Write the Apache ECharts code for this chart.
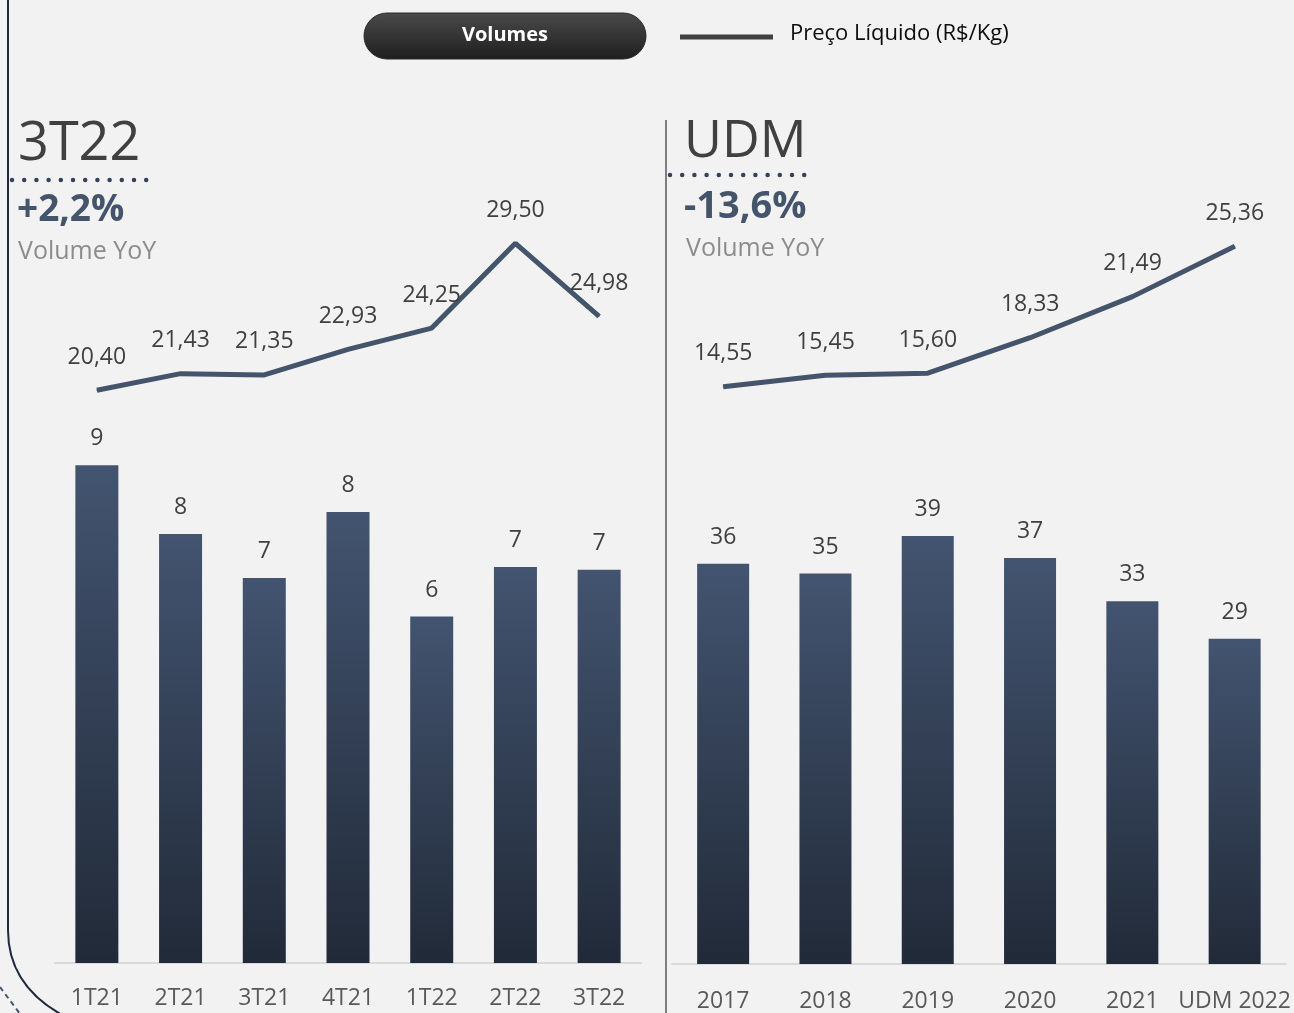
<!DOCTYPE html>
<html>
<head>
<meta charset="utf-8">
<script src="https://cdn.jsdelivr.net/npm/echarts@6/dist/echarts.min.js"></script>
<style>
  html, body { margin: 0; padding: 0; background: #f2f2f2; }
  #chart { width: 1294px; height: 1013px; }
</style>
</head>
<body>
<div id="chart"></div>
<script>
// dados
const quarters = ['1T21', '2T21', '3T21', '4T21', '1T22', '2T22', '3T22']
const volQuarter = [9.05, 7.8, 7.0, 8.2, 6.3, 7.2, 7.15]
const priceQuarter = [20.40, 21.43, 21.35, 22.93, 24.25, 29.50, 24.98]

const years = ['2017', '2018', '2019', '2020', '2021', 'UDM 2022']
const volYear = [36.2, 35.3, 38.7, 36.7, 32.8, 29.4]
const priceYear = [14.55, 15.45, 15.60, 18.33, 21.49, 25.36]

const FONT = '"Open Sans", sans-serif'
const LINE_COLOR = '#44546a'
const TEXT = '#404040'

const barColor = new echarts.graphic.LinearGradient(0, 0, 0, 1, [
  { offset: 0, color: '#435470' },
  { offset: 1, color: '#212a38' }
])

const fmtPrice = (p) => p.value.toFixed(2).replace('.', ',')

const catAxis = (grid, data, show, margin) => ({
  type: 'category',
  gridIndex: grid,
  data: data,
  show: show,
  axisLine: { show: show, lineStyle: { color: '#d9d9d9', width: 2 } },
  axisTick: { show: false },
  axisLabel: { show: show, interval: 0, margin: margin, fontFamily: FONT, fontSize: 23, color: '#595959' }
})

const valAxis = (grid, min, max) => ({
  type: 'value', gridIndex: grid, min: min, max: max, show: false, splitLine: { show: false }
})

const barSeries = (idx, data, width) => ({
  type: 'bar',
  xAxisIndex: idx, yAxisIndex: idx,
  data: data,
  barWidth: width,
  itemStyle: { color: barColor },
  label: {
    show: true, position: 'top', distance: 15,
    fontFamily: FONT, fontSize: 23, color: TEXT,
    formatter: (p) => Math.round(p.value)
  }
})

// símbolo minúsculo só para o rótulo aparecer
const lineSeries = (idx, data) => ({
  type: 'line',
  xAxisIndex: idx, yAxisIndex: idx,
  data: data,
  symbol: 'circle',
  symbolSize: 1,
  showSymbol: true,
  itemStyle: { color: LINE_COLOR },
  lineStyle: { color: LINE_COLOR, width: 5 },
  label: {
    show: true, position: 'top', distance: 21,
    fontFamily: FONT, fontSize: 23, color: TEXT,
    formatter: fmtPrice
  },
  labelLayout: { hideOverlap: false }
})

const txt = (x, y, text, size, color, weight) => ({
  type: 'text', x: x, y: y,
  style: { text: text, fontFamily: FONT, fontSize: size, fill: color, fontWeight: weight || 'normal', textVerticalAlign: 'middle' }
})

const dots = (x1, x2, y) => ({
  type: 'line',
  shape: { x1: x1, y1: y, x2: x2, y2: y },
  style: { stroke: '#34435b', lineWidth: 4.5, lineDash: [0, 12.2], lineCap: 'round' }
})

const myChart = echarts.init(document.getElementById('chart'))

const option = {
  backgroundColor: '#f2f2f2',
  animation: false,
  grid: [
    { left: 55, top: 413, width: 586, height: 550 },
    { left: 55, top: 203, width: 586, height: 226 },
    { left: 672, top: 411, width: 614, height: 555 },
    { left: 672, top: 212, width: 614, height: 208 }
  ],
  xAxis: [
    catAxis(0, quarters, true, 24),
    catAxis(1, quarters, false, 0),
    catAxis(2, years, true, 26),
    catAxis(3, years, false, 0)
  ],
  yAxis: [
    valAxis(0, 0, 10),
    valAxis(1, 18, 32),
    valAxis(2, 0, 50),
    valAxis(3, 12, 28)
  ],
  series: [
    barSeries(0, volQuarter, 43),
    lineSeries(1, priceQuarter),
    barSeries(2, volYear, 52),
    lineSeries(3, priceYear)
  ],
  graphic: [
    // moldura esquerda
    {
      type: 'line',
      shape: { x1: 8, y1: 0, x2: 8, y2: 930 },
      style: { stroke: '#1f2a3c', lineWidth: 2 }
    },
    {
      type: 'bezierCurve',
      shape: { x1: 8, y1: 930, cpx1: 8, cpy1: 965, cpx2: 25, cpy2: 995, x2: 64, y2: 1016 },
      style: { stroke: '#1f2a3c', lineWidth: 2, fill: null }
    },
    {
      type: 'line',
      shape: { x1: 0, y1: 987, x2: 20, y2: 1014 },
      style: { stroke: '#44546a', lineWidth: 2, lineDash: [5, 4] }
    },
    // divisor
    {
      type: 'line',
      shape: { x1: 666, y1: 120, x2: 666, y2: 1013 },
      style: { stroke: '#595959', lineWidth: 1.5 }
    },
    // legenda
    {
      type: 'rect',
      shape: { x: 364, y: 13, width: 282, height: 46, r: 23 },
      style: {
        fill: new echarts.graphic.LinearGradient(0, 0, 0, 1, [
          { offset: 0, color: '#4a4a4a' },
          { offset: 1, color: '#1e1e1e' }
        ]),
        stroke: '#2a2a2a', lineWidth: 1
      }
    },
    {
      type: 'text', x: 505, y: 35,
      style: { text: 'Volumes', fontFamily: FONT, fontSize: 20, fontWeight: 'bold', fill: '#ffffff', textAlign: 'center', textVerticalAlign: 'middle' }
    },
    {
      type: 'line',
      shape: { x1: 680, y1: 37, x2: 773, y2: 37 },
      style: { stroke: '#404040', lineWidth: 5 }
    },
    txt(790, 34, 'Preço Líquido (R$/Kg)', 22, '#0d0d0d'),
    // títulos
    txt(18, 145, '3T22', 54, TEXT),
    dots(12, 147, 180),
    txt(17, 210, '+2,2%', 37, '#44546a', 'bold'),
    txt(18, 252, 'Volume YoY', 25, '#8c8c8c'),
    txt(684, 142, 'UDM', 52, TEXT),
    dots(670, 806, 175),
    txt(684, 207, '-13,6%', 38, '#44546a', 'bold'),
    txt(686, 249, 'Volume YoY', 25, '#8c8c8c')
  ]
}

myChart.setOption(option)

window.addEventListener('resize', () => {
  myChart && myChart.resize()
})
</script>
</body>
</html>
